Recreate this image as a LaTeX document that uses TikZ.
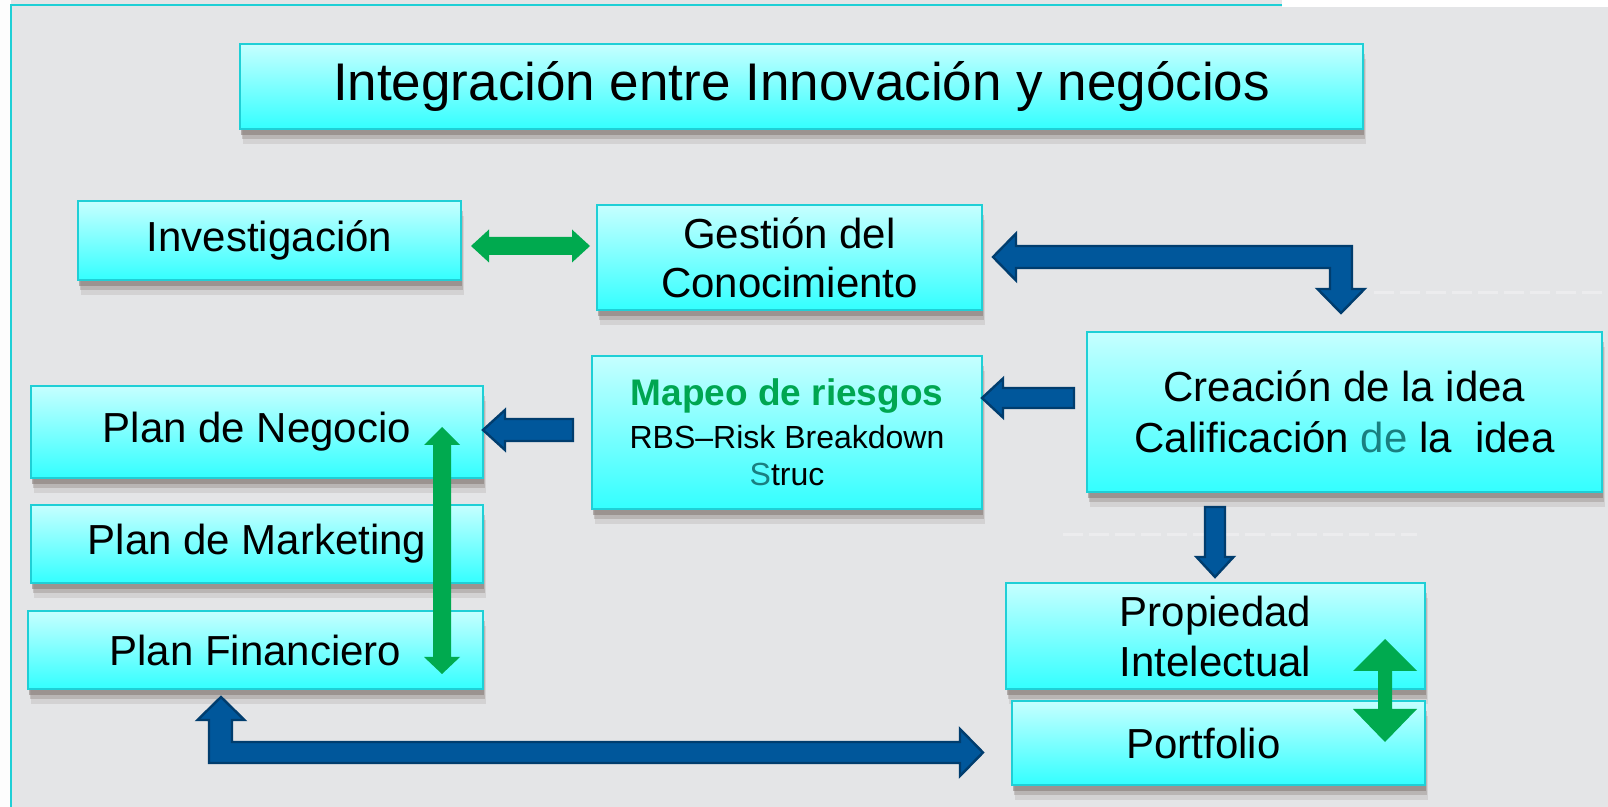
\documentclass[tikz,border=0pt]{standalone}
\usepackage{fontspec}
\setmainfont{Liberation Sans}
\usetikzlibrary{shadows,calc}
\definecolor{bg}{HTML}{E4E5E7}
\definecolor{frame}{HTML}{1FCFD6}
\definecolor{boxtop}{HTML}{C6FFFF}
\definecolor{boxbot}{HTML}{33FFFF}
\definecolor{shadowc}{HTML}{7E726E}
\definecolor{gr}{HTML}{00AA4F}
\definecolor{bfill}{HTML}{00579B}
\definecolor{bline}{HTML}{003D6E}
\definecolor{tealtxt}{HTML}{1A7F80}
\definecolor{mapgreen}{HTML}{00A651}
\tikzset{
  card/.style={draw=frame, line width=1pt, top color=boxtop, bottom color=boxbot,
    anchor=north west, inner sep=0pt, align=center, text=black,
    font=\fontsize{21}{24.5}\selectfont,
    general shadow={fill=shadowc, opacity=0.16, shadow xshift=1.5pt, shadow yshift=-7.5pt},
    general shadow={fill=shadowc, opacity=0.3, shadow xshift=1pt, shadow yshift=-5pt},
    general shadow={fill=shadowc, opacity=0.5, shadow xshift=0.5pt, shadow yshift=-3pt}},
  barrow/.style={fill=bfill, draw=bline, line width=1.2pt, line join=miter},
  garrow/.style={fill=gr},
  artifact/.style={white, opacity=0.3, line width=1.5pt, dash pattern=on 10pt off 3pt}
}
\begin{document}
\begin{tikzpicture}[x=0.5pt, y=-0.5pt]
\useasboundingbox (0,0) rectangle (1608,807);
\fill[bg] (0,0) rectangle (1608,807);
\fill[white!92!bg] (0,0) rectangle (11,807);
\fill[white] (1282,0) rectangle (1608,7);
\draw[frame, line width=1pt] (1282,5) -- (11,5) -- (11,807);
\draw[artifact] (1374,293) -- (1608,293);
\draw[artifact] (1063,535) -- (1417,535);

% boxes
\node[card, minimum width=561.5pt, minimum height=42.5pt, font=\fontsize{26.5}{30}\selectfont] (title) at (239,43) {Integración entre Innovación y negócios};
\node[card, minimum width=191.5pt, minimum height=39.5pt] (inv) at (77,200) {Investigación};
\node[card, minimum width=192.5pt, minimum height=52.5pt] (gest) at (596,204) {Gestión del\\Conocimiento};
\node[card, minimum width=257.5pt, minimum height=80pt, font=\fontsize{21}{25.5}\selectfont] (crea) at (1086,331) {Creación de la idea\\Calificación {\color{tealtxt}de} la\ \ idea};
\node[card, minimum width=195pt, minimum height=76.5pt, font=\fontsize{16}{18.5}\selectfont] (map) at (591,355) {{\fontsize{18.5}{21}\selectfont\bfseries\color{mapgreen}Mapeo de riesgos}\\[3pt]RBS–Risk Breakdown\\{\color{tealtxt}S}truc};
\node[card, minimum width=226pt, minimum height=46pt] (neg) at (30,385) {Plan de Negocio};
\node[card, minimum width=226pt, minimum height=39pt] (mkt) at (30,504) {Plan de Marketing};
\node[card, minimum width=227.5pt, minimum height=39pt] (fin) at (27,610) {Plan Financiero};
\node[card, minimum width=209.5pt, minimum height=53pt, font=\fontsize{21}{25}\selectfont] (prop) at (1005,582) {Propiedad\\Intelectual};
\node[card, minimum width=206.5pt, minimum height=42pt] (port) at (1011,700) {Portfolio\hspace*{15pt}};

% green double arrows
\fill[garrow] (471,246) -- (489,229.5) -- (489,237) -- (572,237) -- (572,229.5) -- (590,246) -- (572,262.5) -- (572,255) -- (489,255) -- (489,262.5) -- cycle;
\fill[garrow] (442,427) -- (460,445) -- (451,445) -- (451,657) -- (460,657) -- (442,674) -- (424,657) -- (433,657) -- (433,445) -- (424,445) -- cycle;
\fill[garrow] (1385,639) -- (1417,671) -- (1392,671) -- (1392,709) -- (1417,709) -- (1385,742) -- (1353,709) -- (1378,709) -- (1378,671) -- (1353,671) -- cycle;

% blue block arrows
\filldraw[barrow] (993,257) -- (1016,233.5) -- (1016,246) -- (1352,246) -- (1352,289) -- (1364.5,289) -- (1341,313) -- (1317.5,289) -- (1330,289) -- (1330,268) -- (1016,268) -- (1016,280.5) -- cycle;
\filldraw[barrow] (982,398) -- (1003,378.5) -- (1003,388) -- (1074,388) -- (1074,408) -- (1003,408) -- (1003,417.5) -- cycle;
\filldraw[barrow] (483,430) -- (505,410) -- (505,419) -- (573,419) -- (573,441) -- (505,441) -- (505,450) -- cycle;
\filldraw[barrow] (1205,507) -- (1225,507) -- (1225,557) -- (1233.5,557) -- (1215,577) -- (1196.5,557) -- (1205,557) -- cycle;
\filldraw[barrow] (221,697) -- (244.5,720) -- (232,720) -- (232,742) -- (960,742) -- (960,729) -- (983,752.5) -- (960,776) -- (960,763) -- (209,763) -- (209,720) -- (197.5,720) -- cycle;
\end{tikzpicture}
\end{document}
